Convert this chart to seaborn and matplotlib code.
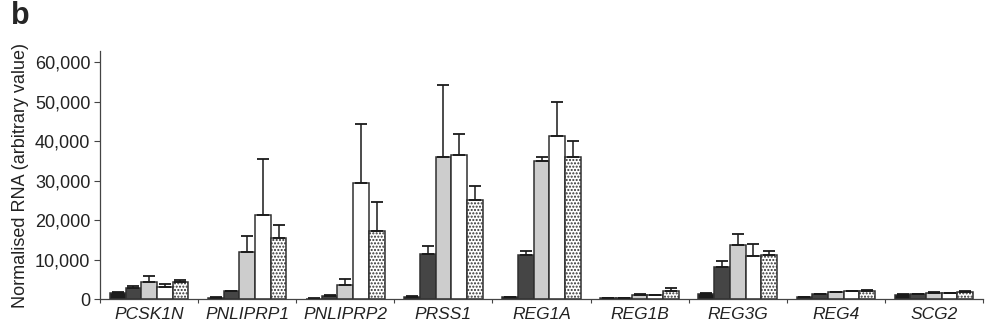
import numpy as np
import pandas as pd
import seaborn as sns
import matplotlib.pyplot as plt
from matplotlib.ticker import FuncFormatter

genes = ['PCSK1N', 'PNLIPRP1', 'PNLIPRP2', 'PRSS1', 'REG1A', 'REG1B', 'REG3G', 'REG4', 'SCG2']
groups = ['G1', 'G2', 'G3', 'G4', 'G5']

# mean values per group (one list per group, in gene order)
g1 = [1600, 330, 100, 580, 500, 200, 1270, 500, 1100]
g2 = [2860, 2000, 840, 11400, 11100, 300, 8000, 1200, 1270]
g3 = [4200, 12000, 3550, 36000, 34900, 1100, 13800, 1770, 1600]
g4 = [3040, 21300, 29300, 36400, 41300, 940, 11000, 1940, 1440]
g5 = [4300, 15500, 17100, 25000, 36000, 1950, 11100, 2000, 1850]

# top of the error bars
e1 = [1700, 400, 150, 650, 600, 250, 1500, 550, 1200]
e2 = [3300, 2100, 900, 13500, 12200, 350, 9500, 1300, 1350]
e3 = [5700, 15900, 5000, 54200, 35900, 1200, 16500, 1850, 1800]
e4 = [3800, 35400, 44300, 41900, 50000, 1100, 13900, 2100, 1600]
e5 = [4700, 18800, 24600, 28600, 39900, 2860, 12200, 2200, 2000]

means = [g1, g2, g3, g4, g5]
tops = [e1, e2, e3, e4, e5]
colors = ['#1c1c1c', '#454545', '#cdcdcd', '#ffffff', '#ffffff']

rows = []
for grp, vals in zip(groups, means):
    for gene, v in zip(genes, vals):
        rows.append({'gene': gene, 'group': grp, 'value': v})
df = pd.DataFrame(rows)

sns.set_style('ticks')
plt.rcParams['font.family'] = ['Liberation Sans', 'DejaVu Sans']

fig = plt.figure(figsize=(9.94, 3.32), dpi=100)
ax = fig.add_axes([100 / 994, 1 - 299 / 332, 883 / 994, 248 / 332])

sns.barplot(data=df, x='gene', y='value', hue='group', hue_order=groups,
            order=genes, palette=colors, width=0.8, gap=0, errorbar=None,
            edgecolor='#303030', linewidth=1.1, legend=False, ax=ax)

bar_w = 0.8 / len(groups)
for cont, top, hatch in zip(ax.containers, tops, [None, None, None, None, '.....']):
    for p in cont.patches:
        c = p.get_x() + p.get_width() / 2
        p.set_width(bar_w)
        p.set_x(c - bar_w / 2)
    xs = [p.get_x() + p.get_width() / 2 for p in cont.patches]
    hs = [p.get_height() for p in cont.patches]
    up = np.array(top) - np.array(hs)
    ax.errorbar(xs, hs, yerr=[np.zeros(len(up)), up], fmt='none',
                ecolor='#1a1a1a', elinewidth=1.1, capsize=4, capthick=1.3, zorder=1)
    if hatch:
        for p in cont.patches:
            p.set_hatch(hatch)
            if hasattr(p, 'set_hatchcolor'):
                p.set_hatchcolor('#7a7a7a')

ax.set_ylim(0, 62800)
ax.set_xlim(-0.5, len(genes) - 0.5)
ax.set_yticks(range(0, 60001, 10000))
ax.yaxis.set_major_formatter(FuncFormatter(lambda v, p: f'{int(v):,}'))
ax.set_xticks(np.arange(-0.5, len(genes) + 0.5, 1.0))
ax.set_xticklabels([])
ax.set_xticks(range(len(genes)), minor=True)
ax.set_xticklabels(genes, minor=True, style='italic', fontsize=12.5, color='#222222')
ax.tick_params(axis='x', which='minor', length=0, pad=6)
ax.tick_params(axis='x', which='major', length=3, color='#444444', direction='out')
ax.tick_params(axis='y', length=4, color='#444444', labelsize=13, labelcolor='#222222', pad=3)

ax.set_xlabel('')
ax.set_ylabel('Normalised RNA (arbitrary value)', fontsize=13, color='#222222', labelpad=4)
for s in ['top', 'right']:
    ax.spines[s].set_visible(False)
for s in ['left', 'bottom']:
    ax.spines[s].set_color('#444444')
    ax.spines[s].set_linewidth(0.9)

fig.text(11 / 994, 1 - 1 / 332, 'b', fontsize=22, fontweight='bold', va='top', ha='left')

fig.savefig('out.png', dpi=100)
plt.close()
